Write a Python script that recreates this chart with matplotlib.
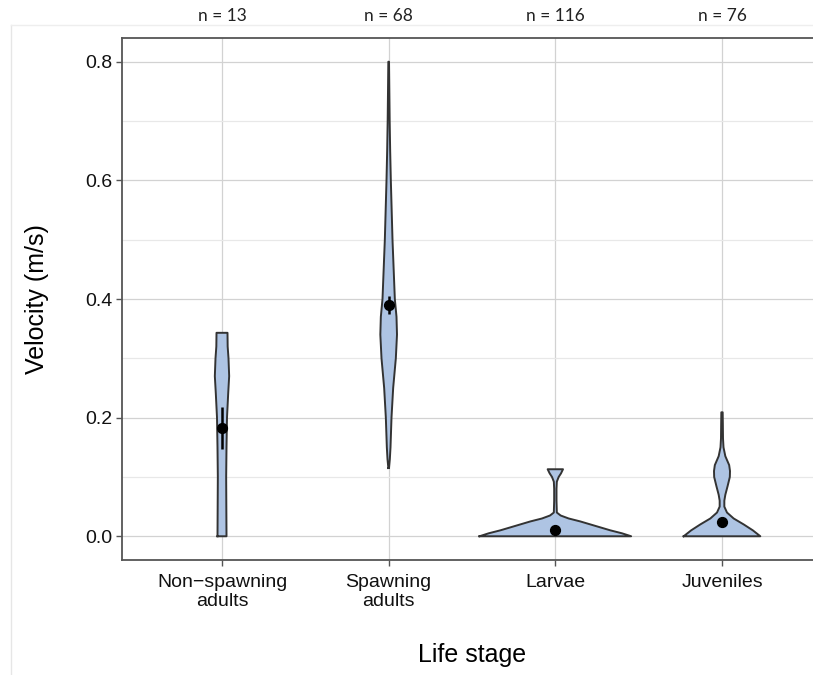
import numpy as np
import matplotlib
matplotlib.use("Agg")
import matplotlib.pyplot as plt
from matplotlib.lines import Line2D
from matplotlib.transforms import blended_transform_factory

# groups and sample sizes
stages = ["Non\u2212spawning\nadults", "Spawning\nadults", "Larvae", "Juveniles"]
n_obs = [13, 68, 116, 76]

# violin outlines: velocity levels and half-widths (category units)
nonspawn_v = [0.0, 0.05, 0.10, 0.15, 0.20, 0.24, 0.27, 0.30, 0.32, 0.343]
nonspawn_w = [0.027, 0.026, 0.025, 0.027, 0.030, 0.037, 0.043, 0.039, 0.034, 0.033]

spawn_v = [0.115, 0.13, 0.15, 0.20, 0.25, 0.30, 0.34, 0.37, 0.40, 0.45, 0.50, 0.55, 0.60, 0.65, 0.70, 0.75, 0.80]
spawn_w = [0.002, 0.007, 0.011, 0.017, 0.027, 0.043, 0.050, 0.047, 0.037, 0.030, 0.023, 0.018, 0.013, 0.009, 0.006, 0.004, 0.002]

larvae_v = [0.0, 0.005, 0.01, 0.015, 0.02, 0.025, 0.03, 0.035, 0.04, 0.06, 0.08, 0.092, 0.10, 0.106, 0.113]
larvae_w = [0.455, 0.40, 0.33, 0.27, 0.21, 0.15, 0.08, 0.032, 0.009, 0.007, 0.007, 0.009, 0.020, 0.034, 0.046]

juv_v = [0.0, 0.01, 0.02, 0.03, 0.04, 0.05, 0.06, 0.07, 0.085, 0.10, 0.11, 0.12, 0.135, 0.15, 0.165, 0.19, 0.209]
juv_w = [0.23, 0.185, 0.13, 0.07, 0.030, 0.014, 0.014, 0.020, 0.034, 0.047, 0.048, 0.043, 0.020, 0.009, 0.006, 0.005, 0.004]

violins = [(nonspawn_v, nonspawn_w), (spawn_v, spawn_w), (larvae_v, larvae_w), (juv_v, juv_w)]

# mean and interval
means = [0.183, 0.390, 0.010, 0.024]
ci_low = [0.147, 0.374, 0.008, 0.022]
ci_high = [0.218, 0.405, 0.012, 0.026]

fill_col = "#aec4e3"
edge_col = "#333333"

fig = plt.figure(figsize=(8.13, 6.75), dpi=100)
ax = fig.add_axes([122 / 813, 115 / 675, 700 / 813, 522 / 675])

ax.set_xlim(0.4, 4.6)
ax.set_ylim(-0.04, 0.84)

ax.set_yticks([0.0, 0.2, 0.4, 0.6, 0.8])
ax.set_yticks([0.1, 0.3, 0.5, 0.7], minor=True)
ax.set_yticklabels(["0.0", "0.2", "0.4", "0.6", "0.8"])
ax.set_xticks(range(1, 5))
ax.set_xticklabels(stages)

ax.grid(True, which="major", color="#d2d2d2", linewidth=0.9)
ax.grid(True, which="minor", axis="y", color="#e8e8e8", linewidth=0.9)
ax.set_axisbelow(True)

for i, (v, w) in enumerate(violins):
    x = i + 1
    v = np.array(v)
    w = np.array(w)
    ax.fill_betweenx(v, x - w, x + w, facecolor=fill_col, edgecolor="none", zorder=2)
    xs = np.concatenate([x - w, (x + w)[::-1], [x - w[0]]])
    ys = np.concatenate([v, v[::-1], [v[0]]])
    ax.plot(xs, ys, color=edge_col, linewidth=1.4, zorder=3, solid_joinstyle="round")

xpos = np.arange(1, 5)
ax.vlines(xpos, ci_low, ci_high, color="black", linewidth=1.8, zorder=4)
ax.scatter(xpos, means, s=50, color="black", zorder=5)

for side in ["top", "bottom", "left"]:
    ax.spines[side].set_color("#555555")
    ax.spines[side].set_linewidth(1.3)
ax.spines["right"].set_visible(False)

ax.tick_params(axis="both", which="major", length=4, width=1, color="#555555",
               labelsize=14, labelcolor="#111111", pad=3)
ax.tick_params(axis="x", which="major", pad=6)
ax.tick_params(axis="both", which="minor", length=0)
for lab in ax.get_xticklabels() + ax.get_yticklabels():
    lab.set_fontfamily("Liberation Sans")
for lab in ax.get_xticklabels():
    lab.set_linespacing(1.15)
ax.set_xlabel("Life stage", fontsize=18, family="Liberation Sans", labelpad=24)
ax.set_ylabel("Velocity (m/s)", fontsize=18, family="Liberation Sans", labelpad=26)

# sample sizes above the panel
trans = blended_transform_factory(ax.transData, fig.transFigure)
for i, n in enumerate(n_obs):
    ax.text(i + 1, 1 - 16 / 675, f"n = {n}", transform=trans, ha="center", va="center",
            fontsize=12.5, family="Lato", color="#222222", clip_on=False)

# faint frame around the pasted figure
fig.add_artist(Line2D([11 / 813, 11 / 813], [0, 1 - 25 / 675], color="#e6e6e6", linewidth=1))
fig.add_artist(Line2D([11 / 813, 1], [1 - 25 / 675, 1 - 25 / 675], color="#eeeeee", linewidth=1))

fig.savefig("out.png", dpi=100)
